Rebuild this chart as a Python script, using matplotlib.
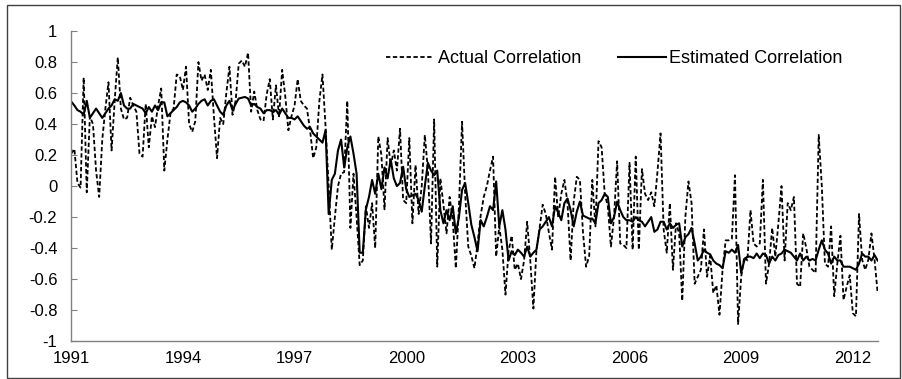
import numpy as np
import pandas as pd
import matplotlib
matplotlib.use("Agg")
import matplotlib.pyplot as plt
from matplotlib.patches import Rectangle

# monthly observations, Jan 1991 onwards
start_month = "1991-01"
n_months = 261

actual_corr = [
    0.21, 0.24, 0.02, -0.01, 0.70, -0.04, 0.45, 0.40, 0.10, -0.07,
    0.30, 0.50, 0.67, 0.23, 0.55, 0.83, 0.50, 0.43, 0.44, 0.57,
    0.52, 0.48, 0.21, 0.19, 0.53, 0.25, 0.45, 0.38, 0.52, 0.63,
    0.10, 0.30, 0.47, 0.50, 0.72, 0.71, 0.62, 0.77, 0.40, 0.35,
    0.42, 0.80, 0.68, 0.72, 0.62, 0.75, 0.45, 0.18, 0.44, 0.40,
    0.60, 0.77, 0.46, 0.55, 0.79, 0.81, 0.77, 0.86, 0.48, 0.61,
    0.49, 0.43, 0.42, 0.59, 0.69, 0.43, 0.65, 0.45, 0.75, 0.58,
    0.36, 0.45, 0.52, 0.69, 0.55, 0.52, 0.50, 0.36, 0.18, 0.25,
    0.55, 0.72, 0.38, 0.00, -0.41, -0.20, 0.00, 0.08, 0.09, 0.55,
    -0.27, 0.08, -0.20, -0.51, -0.48, -0.13, -0.27, -0.11, -0.40, 0.32,
    0.20, -0.15, 0.31, 0.13, 0.23, 0.10, 0.37, -0.09, -0.11, 0.31,
    -0.24, 0.135, -0.18, 0.00, 0.33, 0.10, -0.37, 0.43, -0.52, 0.05,
    -0.12, -0.305, -0.07, -0.22, -0.53, -0.13, 0.415, -0.05, -0.39, -0.45,
    -0.53, -0.37, -0.19, -0.07, 0.00, 0.10, 0.19, -0.455, -0.26, -0.41,
    -0.70, -0.42, -0.32, -0.54, -0.50, -0.60, -0.48, -0.23, -0.48, -0.79,
    -0.41, -0.27, -0.12, -0.18, -0.30, -0.41, 0.06, -0.20, -0.05, 0.04,
    -0.11, -0.48, -0.10, 0.06, 0.04, -0.30, -0.52, -0.45, 0.04, -0.26,
    0.29, 0.25, -0.05, -0.13, -0.39, -0.20, 0.16, -0.37, -0.38, -0.40,
    0.15, -0.41, 0.19, -0.41, 0.11, -0.05, -0.09, -0.04, -0.13, 0.09,
    0.34, -0.28, -0.43, -0.11, -0.54, -0.24, -0.305, -0.74, -0.20, 0.03,
    -0.11, -0.63, -0.585, -0.54, -0.28, -0.585, -0.45, -0.69, -0.64, -0.83,
    -0.54, -0.35, -0.35, -0.34, 0.07, -0.89, -0.585, -0.455, -0.48, -0.155,
    -0.37, -0.39, -0.37, 0.04, -0.63, -0.50, -0.27, -0.455, -0.24, 0.00,
    -0.48, -0.11, -0.155, -0.07, -0.63, -0.65, -0.305, -0.40, -0.52, -0.54,
    -0.56, 0.33, 0.00, -0.50, -0.52, -0.26, -0.71, -0.50, -0.32, -0.735,
    -0.65, -0.575, -0.82, -0.84, -0.18, -0.475, -0.54, -0.475, -0.305, -0.475,
    -0.69,
]

estimated_corr = [
    0.545, 0.52, 0.49, 0.48, 0.46, 0.55, 0.44, 0.47, 0.50, 0.47,
    0.44, 0.47, 0.50, 0.52, 0.56, 0.55, 0.60, 0.52, 0.50, 0.50,
    0.53, 0.52, 0.51, 0.50, 0.47, 0.51, 0.48, 0.52, 0.49, 0.54,
    0.54, 0.45, 0.47, 0.49, 0.51, 0.54, 0.55, 0.54, 0.52, 0.48,
    0.50, 0.53, 0.55, 0.56, 0.52, 0.55, 0.56, 0.52, 0.48, 0.46,
    0.52, 0.55, 0.49, 0.53, 0.565, 0.57, 0.575, 0.565, 0.52, 0.53,
    0.51, 0.50, 0.47, 0.49, 0.49, 0.48, 0.49, 0.46, 0.50, 0.47,
    0.44, 0.44, 0.43, 0.45, 0.42, 0.39, 0.37, 0.38, 0.34, 0.32,
    0.30, 0.28, 0.36, -0.18, 0.04, 0.08, 0.23, 0.30, 0.12, 0.25,
    0.32, 0.21, 0.08, -0.43, -0.43, -0.15, -0.07, 0.04, -0.05, 0.08,
    -0.02, 0.12, 0.05, 0.17, 0.05, 0.00, 0.02, 0.125, -0.02, -0.07,
    -0.06, -0.05, -0.09, -0.165, 0.00, 0.15, 0.10, 0.07, 0.10, -0.155,
    -0.24, -0.155, -0.22, -0.13, -0.305, -0.20, -0.025, 0.02, -0.11, -0.25,
    -0.33, -0.42, -0.22, -0.26, -0.20, -0.13, -0.155, 0.03, -0.26, -0.155,
    -0.28, -0.48, -0.42, -0.445, -0.41, -0.43, -0.455, -0.39, -0.455, -0.43,
    -0.41, -0.28, -0.26, -0.23, -0.20, -0.26, -0.13, -0.17, -0.22, -0.11,
    -0.08, -0.155, -0.26, -0.165, -0.10, -0.19, -0.20, -0.21, -0.21, -0.24,
    -0.11, -0.09, -0.05, -0.07, -0.24, -0.20, -0.10, -0.155, -0.20, -0.22,
    -0.22, -0.23, -0.20, -0.22, -0.23, -0.26, -0.23, -0.20, -0.295, -0.28,
    -0.23, -0.23, -0.28, -0.24, -0.27, -0.25, -0.24, -0.39, -0.33, -0.31,
    -0.27, -0.37, -0.48, -0.455, -0.41, -0.43, -0.44, -0.48, -0.50, -0.51,
    -0.53, -0.42, -0.43, -0.41, -0.43, -0.38, -0.56, -0.48, -0.455, -0.455,
    -0.465, -0.435, -0.465, -0.435, -0.445, -0.50, -0.455, -0.48, -0.445, -0.435,
    -0.41, -0.42, -0.43, -0.455, -0.48, -0.435, -0.48, -0.455, -0.48, -0.47,
    -0.48, -0.41, -0.35, -0.41, -0.435, -0.50, -0.455, -0.48, -0.48, -0.52,
    -0.52, -0.52, -0.53, -0.54, -0.50, -0.435, -0.455, -0.455, -0.48, -0.445,
    -0.48,
]

label_years = [1991, 1994, 1997, 2000, 2003, 2006, 2009, 2012]
y_ticks = [1, 0.8, 0.6, 0.4, 0.2, 0, -0.2, -0.4, -0.6, -0.8, -1]

dates = pd.date_range(start_month, periods=n_months, freq="MS")
x = np.arange(n_months)
tick_pos = [int(np.where((dates.year == yr) & (dates.month == 1))[0][0]) for yr in label_years]

plt.rcParams["font.family"] = ["Liberation Sans", "DejaVu Sans"]

fig = plt.figure(figsize=(9.02, 3.79), dpi=100)
ax = fig.add_axes([0.079, 0.100, 0.894, 0.818])

ax.plot(x, actual_corr, color="black", lw=1.3, linestyle=(0, (2.4, 1.4)),
        label="Actual Correlation")
ax.plot(x, estimated_corr, color="black", lw=1.5, label="Estimated Correlation")

ax.set_xlim(0, n_months - 1)
ax.set_ylim(-1, 1)
ax.set_yticks(y_ticks)
ax.set_yticklabels([f"{v:g}" for v in y_ticks])
ax.set_xticks(tick_pos)
ax.set_xticklabels([str(y) for y in label_years])

for side in ["top", "right"]:
    ax.spines[side].set_visible(False)
for side in ["left", "bottom"]:
    ax.spines[side].set_color("#808080")
    ax.spines[side].set_linewidth(1.0)
ax.tick_params(axis="y", direction="in", length=4, color="#808080", labelsize=12, pad=10)
ax.tick_params(axis="x", length=0, labelsize=12, pad=7)

leg = ax.legend(loc="upper right", bbox_to_anchor=(0.977, 0.99), ncol=2, frameon=False,
                fontsize=13, handlelength=2.65, handletextpad=0.22, columnspacing=2.0)

# chart area border
fig.patches.append(Rectangle((0.008, 0.003), 0.99, 0.985, transform=fig.transFigure,
                             fill=False, edgecolor="#404040", lw=1.0))

fig.savefig("out.png", dpi=100)
